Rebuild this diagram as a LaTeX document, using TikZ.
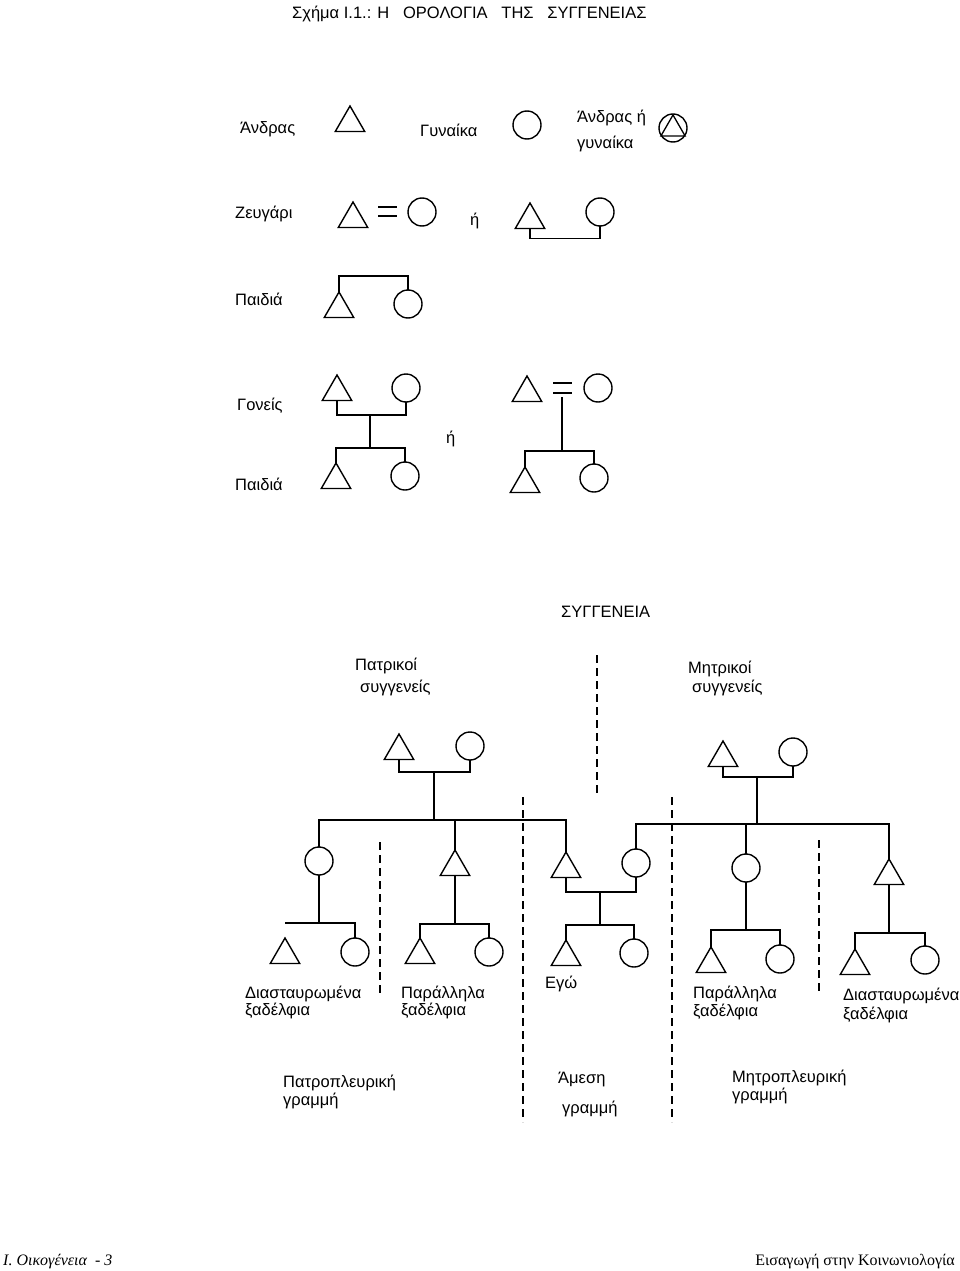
\documentclass[tikz,border=0pt]{standalone}
\usepackage{fontspec}
\setmainfont{Liberation Sans}
\newfontfamily\serifft{Liberation Serif}
\usetikzlibrary{shapes.geometric}
\begin{document}
\begin{tikzpicture}[x=1pt,y=-1pt,
  tri/.style={regular polygon, regular polygon sides=3, draw, line width=1.4pt, minimum size=34pt, inner sep=0pt, outer sep=0pt},
  smalltri/.style={regular polygon, regular polygon sides=3, draw, line width=1.3pt, minimum size=28pt, inner sep=0pt, outer sep=0pt},
  fem/.style={circle, draw, line width=1.4pt, minimum size=28pt, inner sep=0pt, outer sep=0pt},
  link/.style={line width=1.8pt},
  kinline/.style={line width=1.9pt, dash pattern=on 8pt off 5pt},
  lbl/.style={font=\fontsize{16.5}{19}\selectfont, inner sep=0pt, anchor=base west},
  ttl/.style={font=\fontsize{16.5}{18}\selectfont, inner sep=0pt, anchor=base west},
  foot/.style={font=\serifft\fontsize{16}{18}\selectfont, inner sep=0pt}]
\fill[white] (0,0) rectangle (960,1271);
\useasboundingbox (0,0) rectangle (960,1271);

% title
\node[ttl] (title) at (292,19) {Σχήμα Ι.1.: Η \ \ ΟΡΟΛΟΓΙΑ \ \ ΤΗΣ \ \ ΣΥΓΓΕΝΕΙΑΣ};

% legend row 1
\node[lbl] (lman) at (240,133) {Άνδρας};
\node[tri,anchor=north] (m1) at (350,106) {};
\node[lbl] (lwoman) at (420,137) {Γυναίκα};
\node[fem] (f1) at (527,125) {};
\node[lbl] (lany1) at (577,123) {Άνδρας ή};
\node[lbl] (lany2) at (577,148) {γυναίκα};
\node[fem] (mf) at (673,128) {};
\node[smalltri,anchor=north] (mft) at (673,115) {};

% legend row 2: couple
\node[lbl] (lcouple) at (235,218) {Ζευγάρι};
\node[tri,anchor=north] (m2) at (353,202) {};
\draw[link] (378,207) -- (397,207);
\draw[link] (378,216) -- (397,216);
\node[fem] (f2) at (422,212) {};
\node[lbl] (or1) at (470,225) {ή};
\node[tri,anchor=north] (m3) at (530,203) {};
\node[fem] (f3) at (600,212) {};
\draw[link] (m3.south) -- ++(0,10) -| (f3.south);

% legend row 3: children
\node[lbl] (lkids1) at (235,305) {Παιδιά};
\node[tri,anchor=north] (s3) at (339,292) {};
\node[fem] (s4) at (408,304) {};
\draw[link] (s3.north) -- ++(0,-16) -| (s4.north);

% legend row 4: parents / children
\node[lbl] (lparents) at (237,410) {Γονείς};
\node[lbl] (lkids2) at (235,490) {Παιδιά};
\node[tri,anchor=north] (g1) at (337,375) {};
\node[fem] (g2) at (406,388) {};
\coordinate (gj) at (370,415);
\coordinate (gb) at (370,448);
\draw[link] (g1.south) |- (gj) -| (g2.south);
\draw[link] (gj) -- (gb);
\node[tri,anchor=north] (k1) at (336,463) {};
\node[fem] (k2) at (405,476) {};
\draw[link] (k1.north) |- (gb) -| (k2.north);
\node[lbl] (or2) at (446,443) {ή};

\node[tri,anchor=north] (h1) at (527,376) {};
\draw[link] (553,383) -- (572,383);
\draw[link] (553,393) -- (572,393);
\node[fem] (h2) at (598,388) {};
\coordinate (hj) at (562,397);
\coordinate (hb) at (562,451);
\draw[link] (hj) -- (hb);
\node[tri,anchor=north] (l1) at (525,467) {};
\node[fem] (l2) at (594,478) {};
\draw[link] (l1.north) |- (hb) -| (l2.north);

% ---------------- kinship chart
\node[lbl] (lkin) at (561,617) {ΣΥΓΓΕΝΕΙΑ};
\node[lbl] (lpat1) at (355,670) {Πατρικοί};
\node[lbl] (lpat2) at (360,692) {συγγενείς};
\node[lbl] (lmat1) at (688,673) {Μητρικοί};
\node[lbl] (lmat2) at (692,692) {συγγενείς};

\draw[kinline] (597,655) -- (597,796);
\draw[kinline] (380,842) -- (380,996);
\draw[kinline] (523,797) -- (523,1122);
\draw[kinline] (672,797) -- (672,1122);
\draw[kinline] (819,840) -- (819,993);

% paternal grandparents
\node[tri,anchor=north] (pgf) at (399,734) {};
\node[fem] (pgm) at (470,746) {};
\coordinate (pj) at (434,772);
\coordinate (pb) at (434,820);
\draw[link] (pgf.south) |- (pj) -| (pgm.south);
\draw[link] (pj) -- (pb);

% maternal grandparents
\node[tri,anchor=north] (mgf) at (723,741) {};
\node[fem] (mgm) at (793,752) {};
\coordinate (mj) at (757,777);
\coordinate (mb) at (757,824);
\draw[link] (mgf.south) |- (mj) -| (mgm.south);
\draw[link] (mj) -- (mb);

% paternal children
\node[fem] (c1) at (319,861) {};
\node[tri,anchor=north] (c2) at (455,850) {};
\node[tri,anchor=north] (c3) at (566,852) {};
\draw[link] (c1.north) |- (pb) -| (c3.north);
\draw[link] (c2.north) -- (c2.north |- pb);

% maternal children
\node[fem] (c4) at (636,863) {};
\node[fem] (c5) at (746,868) {};
\node[tri,anchor=north] (c6) at (889,859) {};
\draw[link] (c4.north) |- (mb) -| (c6.north);
\draw[link] (c5.north) -- (c5.north |- mb);

% cross cousins (paternal side)
\coordinate (b1) at (319,923);
\node[tri,anchor=north] (gc1) at (285,938) {};
\node[fem] (gc2) at (355,952) {};
\draw[link] (c1.south) -- (b1);
\draw[link] (gc1.north |- b1) -- (b1) -| (gc2.north);

% parallel cousins (paternal side)
\coordinate (b2) at (455,924);
\node[tri,anchor=north] (gc3) at (420,938) {};
\node[fem] (gc4) at (489,952) {};
\draw[link] (c2.south) -- (b2);
\draw[link] (gc3.north) |- (b2) -| (gc4.north);

% ego and sibling
\coordinate (ej) at (600,892);
\coordinate (eb) at (600,925);
\draw[link] (c3.south) |- (ej) -| (c4.south);
\draw[link] (ej) -- (eb);
\node[tri,anchor=north] (ego) at (566,940) {};
\node[fem] (sib) at (634,953) {};
\draw[link] (ego.north) |- (eb) -| (sib.north);

% parallel cousins (maternal side)
\coordinate (b5) at (746,930);
\node[tri,anchor=north] (gc5) at (711,947) {};
\node[fem] (gc6) at (780,959) {};
\draw[link] (c5.south) -- (b5);
\draw[link] (gc5.north) |- (b5) -| (gc6.north);

% cross cousins (maternal side)
\coordinate (b6) at (889,933);
\node[tri,anchor=north] (gc7) at (855,949) {};
\node[fem] (gc8) at (925,960) {};
\draw[link] (c6.south) -- (b6);
\draw[link] (gc7.north) |- (b6) -| (gc8.north);

% labels under cousins
\node[lbl] (lcross1a) at (245,998) {Διασταυρωμένα};
\node[lbl] (lcross1b) at (245,1015) {ξαδέλφια};
\node[lbl] (lpar1a) at (401,998) {Παράλληλα};
\node[lbl] (lpar1b) at (401,1015) {ξαδέλφια};
\node[lbl] (lego) at (545,988) {Εγώ};
\node[lbl] (lpar2a) at (693,998) {Παράλληλα};
\node[lbl] (lpar2b) at (693,1016) {ξαδέλφια};
\node[lbl] (lcross2a) at (843,1000) {Διασταυρωμένα};
\node[lbl] (lcross2b) at (843,1019) {ξαδέλφια};

% lines of descent
\node[lbl] (lpl1) at (283,1087) {Πατροπλευρική};
\node[lbl] (lpl2) at (283,1105) {γραμμή};
\node[lbl] (ldl1) at (558,1083) {Άμεση};
\node[lbl] (ldl2) at (562,1113) {γραμμή};
\node[lbl] (lml1) at (732,1082) {Μητροπλευρική};
\node[lbl] (lml2) at (732,1100) {γραμμή};

% footer
\node[foot,anchor=base west] (fl) at (3,1265) {\itshape Ι. Οικογένεια \ - 3};
\node[foot,anchor=base east] (fr) at (955,1265) {Εισαγωγή στην Κοινωνιολογία};
\end{tikzpicture}
\end{document}
